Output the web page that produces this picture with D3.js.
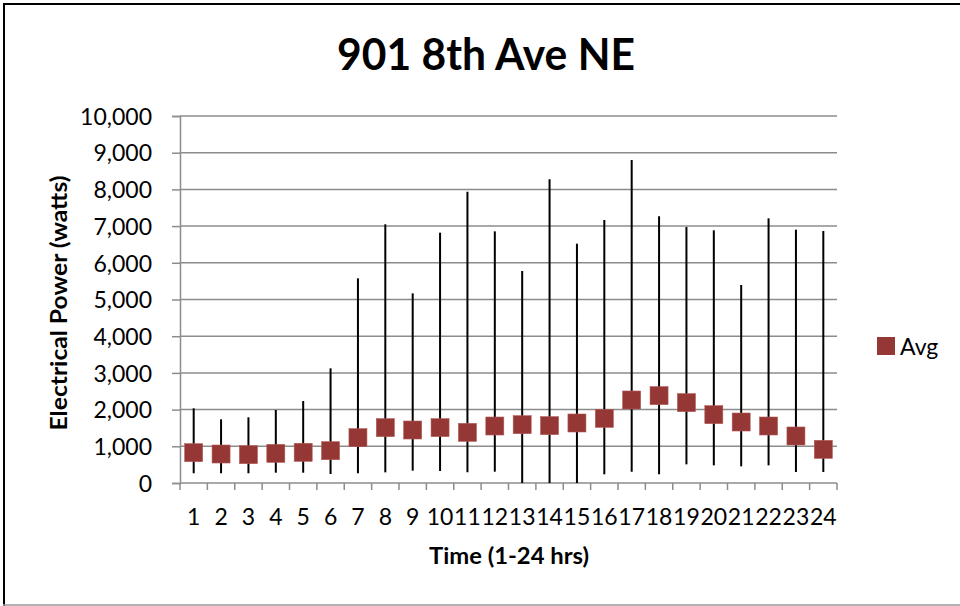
<!DOCTYPE html>
<html>
<head>
<meta charset="utf-8">
<script src="https://cdn.jsdelivr.net/npm/d3@7"></script>
<style>
  body { margin: 0; background: #fff; }
  text { font-family: Lato, "Liberation Sans", sans-serif; fill: #000; }
</style>
</head>
<body>
<div id="chart"></div>
<script>
// hours 1-24
const hours = d3.range(1, 25).map(String);
const avgWatts = [826, 790, 772, 808, 836, 880, 1235, 1508, 1444, 1508, 1380, 1553,
                  1589, 1562, 1635, 1762, 2262, 2380, 2189, 1862, 1662, 1553, 1281, 917];
const maxWatts = [2035, 1735, 1790, 1990, 2234, 3125, 5577, 7049, 5168, 6821, 7938, 6857,
                  5777, 8275, 6521, 7166, 8801, 7266, 6975, 6885, 5395, 7212, 6903, 6866];
const minWatts = [265, 265, 265, 281, 281, 245, 265, 290, 336, 327, 290, 309,
                  0, 0, 0, 236, 309, 236, 508, 481, 454, 481, 300, 300];
const yTicks = d3.range(0, 10001, 1000);

const width = 960, height = 606;
const plot = {left: 180, right: 837, top: 116, bottom: 483};

const svg = d3.select("#chart").append("svg")
    .attr("width", width)
    .attr("height", height);

// frame
svg.append("line").attr("x1", 3).attr("x2", 960).attr("y1", 4).attr("y2", 4)
    .attr("stroke", "#000").attr("stroke-width", 2);
svg.append("line").attr("x1", 4).attr("x2", 4).attr("y1", 3).attr("y2", 606)
    .attr("stroke", "#000").attr("stroke-width", 2);
svg.append("line").attr("x1", 3).attr("x2", 960).attr("y1", 605).attr("y2", 605)
    .attr("stroke", "#9a9a9a").attr("stroke-width", 1.5);

const x = d3.scaleBand().domain(hours).range([plot.left, plot.right]);
const y = d3.scaleLinear().domain([0, 10000]).range([plot.bottom, plot.top]);

// gridlines
svg.append("g")
    .selectAll("line")
    .data(yTicks.slice(1))
    .enter().append("line")
    .attr("x1", plot.left).attr("x2", plot.right)
    .attr("y1", d => y(d)).attr("y2", d => y(d))
    .attr("stroke", "#8c8c8c").attr("stroke-width", 1.5);

// y axis
const yAxis = d3.axisLeft(y).tickValues(yTicks).tickSize(8).tickPadding(20)
    .tickFormat(d3.format(","));
const gy = svg.append("g").attr("transform", `translate(${plot.left},0)`).call(yAxis);
gy.select(".domain").attr("stroke", "#8c8c8c").attr("stroke-width", 1.5);
gy.selectAll(".tick line").attr("stroke", "#8c8c8c").attr("stroke-width", 1.5);
gy.selectAll(".tick text").style("font-size", "23px").attr("dy", "0.36em");

// x axis with ticks on category boundaries
const gx = svg.append("g").attr("transform", `translate(0,${plot.bottom})`);
gx.append("line").attr("x1", plot.left).attr("x2", plot.right)
    .attr("stroke", "#8c8c8c").attr("stroke-width", 1.5);
gx.selectAll("line.tk")
    .data(hours.concat(["end"]))
    .enter().append("line").attr("class", "tk")
    .attr("x1", (d, i) => plot.left + i * x.bandwidth())
    .attr("x2", (d, i) => plot.left + i * x.bandwidth())
    .attr("y1", 0).attr("y2", 7)
    .attr("stroke", "#8c8c8c").attr("stroke-width", 1.5);
gx.selectAll("text")
    .data(hours)
    .enter().append("text")
    .attr("x", d => x(d) + x.bandwidth() / 2)
    .attr("y", 42)
    .attr("text-anchor", "middle")
    .style("font-size", "23px")
    .text(d => d);

// min-max whiskers
svg.append("g")
    .selectAll("line")
    .data(hours)
    .enter().append("line")
    .attr("x1", d => x(d) + x.bandwidth() / 2)
    .attr("x2", d => x(d) + x.bandwidth() / 2)
    .attr("y1", (d, i) => y(minWatts[i]))
    .attr("y2", (d, i) => y(maxWatts[i]))
    .attr("stroke", "#000").attr("stroke-width", 2);

// avg markers
const sq = 18;
svg.append("g")
    .selectAll("rect")
    .data(hours)
    .enter().append("rect")
    .attr("x", d => x(d) + x.bandwidth() / 2 - sq / 2)
    .attr("y", (d, i) => y(avgWatts[i]) - sq / 2)
    .attr("width", sq).attr("height", sq)
    .attr("fill", "#953735")
    .attr("stroke", "#b05a58").attr("stroke-width", 0.6);

// title
svg.append("text")
    .attr("x", 486).attr("y", 70)
    .attr("text-anchor", "middle")
    .attr("textLength", 298).attr("lengthAdjust", "spacingAndGlyphs")
    .style("font-size", "44px").style("font-weight", "bold")
    .text("901 8th Ave NE");

// axis titles
svg.append("text")
    .attr("transform", "translate(67,303) rotate(-90)")
    .attr("text-anchor", "middle")
    .attr("textLength", 255).attr("lengthAdjust", "spacingAndGlyphs")
    .style("font-size", "23px").style("font-weight", "bold")
    .text("Electrical Power (watts)");

svg.append("text")
    .attr("x", 509).attr("y", 564)
    .attr("text-anchor", "middle")
    .attr("textLength", 160).attr("lengthAdjust", "spacingAndGlyphs")
    .style("font-size", "23px").style("font-weight", "bold")
    .text("Time (1-24 hrs)");

// legend
svg.append("rect")
    .attr("x", 877).attr("y", 337).attr("width", 18).attr("height", 18)
    .attr("fill", "#953735");
svg.append("text")
    .attr("x", 900).attr("y", 355)
    .style("font-size", "23px")
    .text("Avg");
</script>
</body>
</html>
